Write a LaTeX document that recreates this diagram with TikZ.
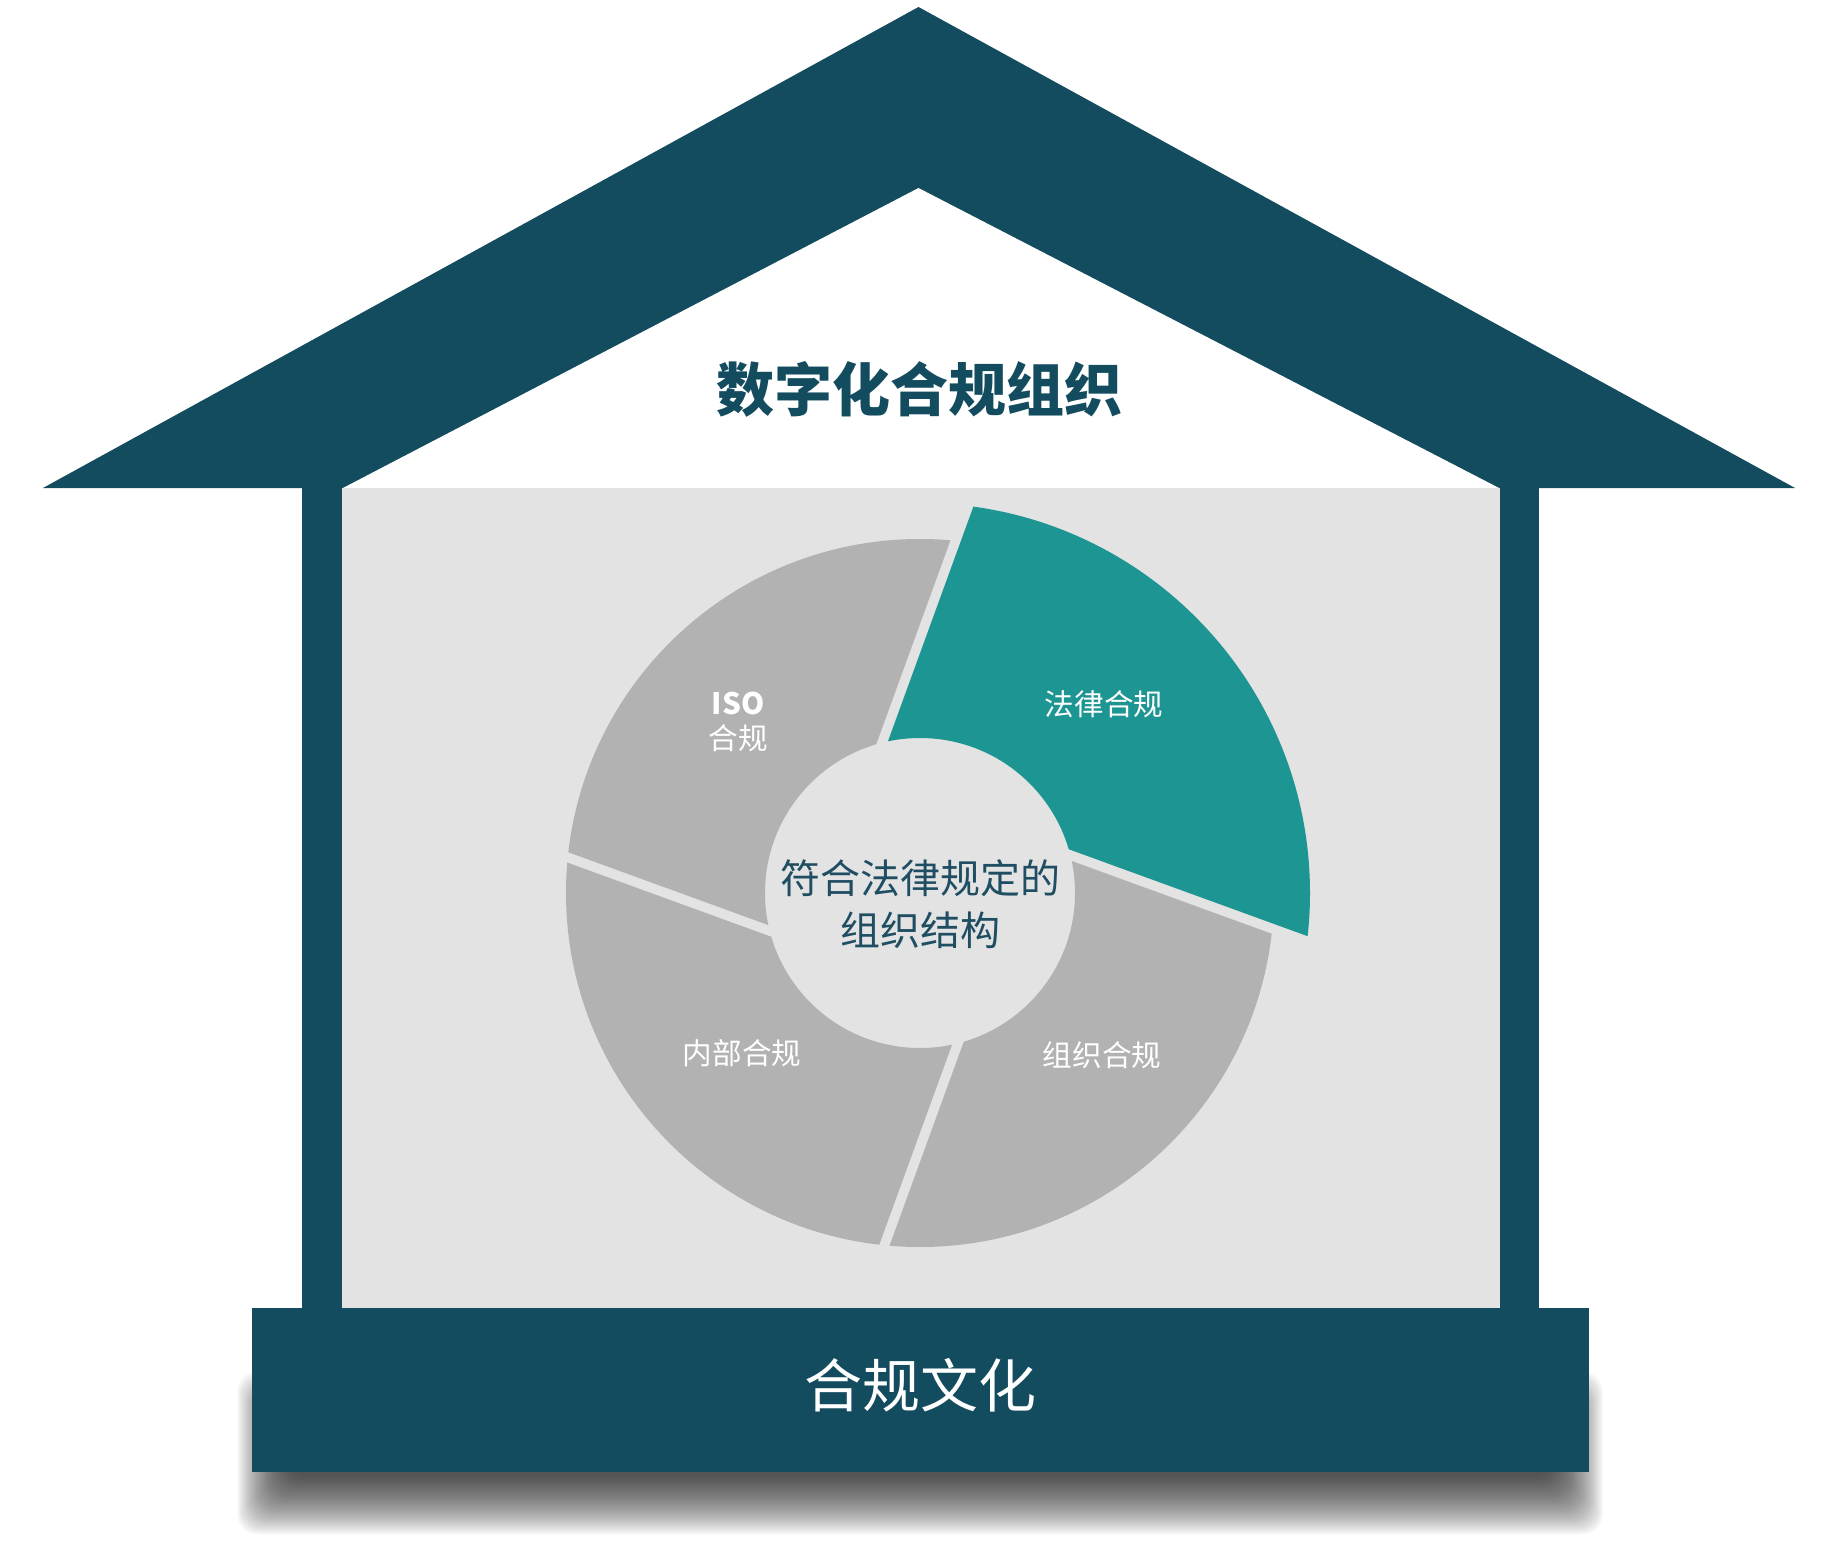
\documentclass[tikz,border=0pt]{standalone}
\usepackage{fontspec}
\setmainfont{Noto Sans CJK SC}
\definecolor{roof}{HTML}{134C5F}
\definecolor{tealS}{HTML}{1C9593}
\definecolor{grayS}{HTML}{B3B2B2}
\definecolor{panel}{HTML}{E3E3E3}
\definecolor{ctext}{HTML}{1F4E63}
\begin{document}
\begin{tikzpicture}[x=0.5pt,y=-0.5pt,
  titletext/.style={font=\fontsize{29pt}{34pt}\selectfont\bfseries, text=roof, inner sep=0pt},
  basetext/.style={font=\fontsize{29pt}{34pt}\selectfont, text=white, inner sep=0pt},
  centertext/.style={font=\fontsize{20pt}{25.8pt}\selectfont, text=ctext, align=center, inner sep=0pt},
  seglabel/.style={font=\fontsize{14.8pt}{17.5pt}\selectfont, text=white, align=center, inner sep=0pt},
  hubcircle/.style={circle, minimum size=155pt, inner sep=0pt}]
\useasboundingbox (0,0) rectangle (1837,1546);
% shadow of the base
\foreach \i in {1,...,40} {
  \fill[black, opacity=0.028, rounded corners=10pt] (236+1.25*\i,1370+1.5*\i) rectangle (1604-1.25*\i,1536-1.5*\i);
}
% roof
\fill[roof] (918.5,7) -- (1795,488) -- (43,488) -- cycle;
\fill[white] (918.5,188) -- (1500,488.5) -- (342,488.5) -- cycle;
% walls and panel
\fill[roof] (302,487) rectangle (342.5,1310);
\fill[roof] (1499.5,487) rectangle (1538.5,1310);
\fill[panel] (342,488) rectangle (1500,1308);
% base
\fill[roof] (252,1308) rectangle (1588.5,1472);
% donut
\begin{scope}[shift={(920,893)}, yscale=-1]
  \foreach \k/\col/\R in {0/tealS/390, 1/grayS/354, 2/grayS/354, 3/grayS/354} {
    \begin{scope}[rotate=-90*\k]
      \clip ([shift={(160:82)}]70:92) -- ++(70:800) -- ++(-20:800) -- ++(250:800) -- cycle;
      \fill[\col, even odd rule] (0,0) circle (\R) (0,0) circle (155);
    \end{scope}
  }
\end{scope}
\node[hubcircle] (hub) at (920,893) {};
\node[centertext] (hubtext) at (920,904) {符合法律规定的\\组织结构};
\node[titletext] (title) at (919,389) {数字化合规组织};
\node[basetext] (culture) at (920,1385) {合规文化};
\node[seglabel] (legal) at (1104,704) {法律合规};
\node[seglabel] (iso) at (738,722) {\bfseries ISO\\合规};
\node[seglabel] (internal) at (742,1053) {内部合规};
\node[seglabel] (org) at (1102,1055) {组织合规};
\end{tikzpicture}
\end{document}
